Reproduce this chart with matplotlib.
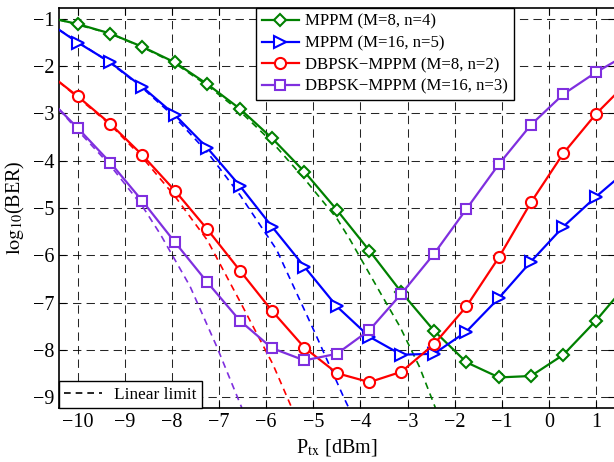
import matplotlib
matplotlib.use("Agg")
import matplotlib.pyplot as plt
from matplotlib.lines import Line2D

plt.rcParams['font.family'] = ['Liberation Serif', 'DejaVu Serif']
plt.rcParams['mathtext.fontset'] = 'stix'

# transmitted power at the marker positions [dBm]
p_tx = [-10.0, -9.31, -8.63, -7.94, -7.25, -6.56, -5.88, -5.19, -4.5,
        -3.81, -3.13, -2.44, -1.75, -1.06, -0.38, 0.31, 1.0]
edge_x = [-10.4, 1.4]

# log10(BER) read at the markers
ber_mppm_8 = [-1.11, -1.31, -1.59, -1.92, -2.38, -2.90, -3.52, -4.23, -5.04,
              -5.90, -6.78, -7.59, -8.26, -8.58, -8.55, -8.10, -7.38]
ber_mppm_16 = [-1.50, -1.92, -2.44, -3.03, -3.73, -4.53, -5.39, -6.24, -7.08,
               -7.72, -8.10, -8.08, -7.61, -6.90, -6.13, -5.39, -4.76]
ber_dbpsk_8 = [-2.64, -3.22, -3.88, -4.63, -5.45, -6.32, -7.17, -7.95, -8.49,
               -8.68, -8.46, -7.88, -7.08, -6.04, -4.88, -3.84, -3.01]
ber_dbpsk_16 = [-3.31, -4.04, -4.85, -5.72, -6.57, -7.38, -7.96, -8.22, -8.08,
                -7.58, -6.81, -5.97, -5.02, -4.07, -3.24, -2.59, -2.13]
# values where the curves meet the left / right border
edges_mppm_8 = [-1.02, -6.91]
edges_mppm_16 = [-1.23, -4.42]
edges_dbpsk_8 = [-2.33, -2.61]
edges_dbpsk_16 = [-2.91, -1.90]

# linear limits (dashed)
lin_x_mppm_8 = [-10.4, -9.31, -8.63, -7.94, -7.25, -6.56, -5.88, -5.19, -4.5,
                -4.22, -3.55, -3.16, -2.75, -2.41]
lin_y_mppm_8 = [-1.02, -1.31, -1.60, -1.94, -2.41, -2.95, -3.60, -4.38, -5.22,
                -5.67, -6.84, -7.51, -8.35, -9.22]
lin_x_mppm_16 = [-10.4, -9.31, -8.63, -7.94, -7.25, -6.56, -5.78, -4.96, -4.36, -4.25]
lin_y_mppm_16 = [-1.23, -1.93, -2.46, -3.08, -3.82, -4.72, -5.88, -7.65, -8.99, -9.22]
lin_x_dbpsk_8 = [-10.4, -9.31, -8.63, -7.94, -7.25, -6.56, -5.86, -5.46]
lin_y_dbpsk_8 = [-2.33, -3.24, -3.93, -4.75, -5.68, -6.97, -8.30, -9.22]
lin_x_dbpsk_16 = [-10.4, -10.0, -9.31, -8.63, -8.25, -7.62, -7.05, -6.52]
lin_y_dbpsk_16 = [-2.91, -3.36, -4.10, -4.96, -5.55, -6.65, -7.93, -9.22]

green = '#008000'
blue = '#0000ff'
red = '#ff0000'
purple = '#7f2fdf'

fig = plt.figure(figsize=(6.14, 4.62), dpi=100)
ax = fig.add_axes([59 / 614, 54.3 / 462, 555.8 / 614, 399.7 / 462])

series = [
    (ber_mppm_8, edges_mppm_8, green, 'D', 'MPPM (M=8, n=4)', 6.5),
    (ber_mppm_16, edges_mppm_16, blue, '>', 'MPPM (M=16, n=5)', 8.5),
    (ber_dbpsk_8, edges_dbpsk_8, red, 'o', 'DBPSK\u2212MPPM (M=8, n=2)', 8),
    (ber_dbpsk_16, edges_dbpsk_16, purple, 's', 'DBPSK\u2212MPPM (M=16, n=3)', 7),
]
linear = [
    (lin_x_mppm_8, lin_y_mppm_8, green),
    (lin_x_mppm_16, lin_y_mppm_16, blue),
    (lin_x_dbpsk_8, lin_y_dbpsk_8, red),
    (lin_x_dbpsk_16, lin_y_dbpsk_16, purple),
]

for lx, ly, c in linear:
    ax.plot(lx, ly, color=c, lw=1.2, linestyle=(0, (4, 3)), zorder=2)

handles = []
for yv, ed, c, m, lab, ms in series:
    xs = [edge_x[0]] + p_tx + [edge_x[1]]
    ys = [ed[0]] + yv + [ed[1]]
    h, = ax.plot(xs, ys, color=c, lw=1.6, marker=m, markersize=ms,
                 markerfacecolor='white', markeredgecolor=c, markeredgewidth=1.5,
                 markevery=list(range(1, len(p_tx) + 1)), label=lab, zorder=3)
    handles.append(h)

ax.set_xlim(-10.4, 1.4)
ax.set_ylim(-9.22, -0.77)
ax.set_xticks(range(-10, 2))
ax.set_yticks(range(-9, 0))
ax.grid(True, color='black', lw=0.75, linestyle=(0, (8, 5)), alpha=0.85)
ax.tick_params(direction='in', top=True, right=True, length=5, labelsize=14.5)
for s in ax.spines.values():
    s.set_linewidth(1.2)

ax.set_xlabel(r'P$_{\mathrm{tx}}$ [dBm]', fontsize=14.5, labelpad=4)
ax.set_ylabel(r'$\mathrm{log}_{10}$(BER)', fontsize=14.5, labelpad=4)

leg1 = ax.legend(handles=handles, loc='upper left', bbox_to_anchor=(0.354, 1.0),
                 borderaxespad=0, fontsize=12.1, fancybox=False, framealpha=1,
                 edgecolor='black', labelspacing=0.33, handlelength=2.2,
                 borderpad=0.35, handletextpad=0.4)
leg1.get_frame().set_linewidth(1.0)
ax.add_artist(leg1)

lin_handle = Line2D([], [], color='black', lw=1.2, linestyle=(0, (4, 3)))
leg2 = ax.legend(handles=[lin_handle], labels=['Linear limit'], loc='lower left',
                 bbox_to_anchor=(0, 0), borderaxespad=0, fontsize=12.4,
                 fancybox=False, framealpha=1, edgecolor='black',
                 handlelength=2.2, borderpad=0.3, handletextpad=0.7)
leg2.get_frame().set_linewidth(1.0)

fig.savefig('out.png', dpi=100)
